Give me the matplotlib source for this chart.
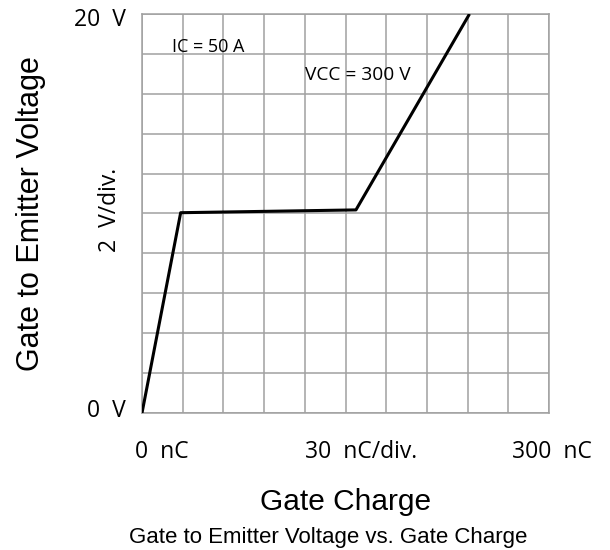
import numpy as np
import matplotlib.pyplot as plt

# gate charge curve (nC, V)
charge = [0, 28.5, 157.7, 241.4]
vge = [0, 10.04, 10.18, 20.0]

x_ticks = np.arange(0, 301, 30)
y_ticks = np.arange(0, 21, 2)

tick_font = 'Open Sans'
label_font = 'Liberation Sans'

fig = plt.figure(figsize=(6.1, 5.5), dpi=100)
ax = fig.add_axes([142 / 610, 1 - 413 / 550, 407 / 610, 399 / 550])

ax.plot(charge, vge, color='black', lw=2.2, solid_capstyle='butt', zorder=3)

ax.set_xlim(0, 300)
ax.set_ylim(0, 20)
ax.set_xticks(x_ticks)
ax.set_yticks(y_ticks)
ax.tick_params(length=0, labelbottom=False, labelleft=False)
ax.grid(True, color='#a0a0a0', lw=1.1)
for s in ax.spines.values():
    s.set_color('#a0a0a0')
    s.set_linewidth(1.1)

# annotations inside the grid
ax.text(172 / 610, 1 - 47 / 550, 'IC = 50 A', transform=fig.transFigure,
        family=tick_font, fontsize=13, va='center', ha='left')
ax.text(305 / 610, 1 - 75 / 550, 'VCC = 300 V', transform=fig.transFigure,
        family=tick_font, fontsize=13.8, va='center', ha='left')

# axis end labels
fig.text(126 / 610, 1 - 19.5 / 550, '20  V', family=tick_font, fontsize=16.5,
         ha='right', va='center')
fig.text(126 / 610, 1 - 411 / 550, '0  V', family=tick_font, fontsize=16.5,
         ha='right', va='center')
fig.text(110 / 610, 1 - 210 / 550, '2  V/div.', family=tick_font, fontsize=16.5,
         ha='center', va='center', rotation=90)

fig.text(135 / 610, 1 - 452 / 550, '0  nC', family=tick_font, fontsize=16.5,
         ha='left', va='center')
fig.text(361 / 610, 1 - 452 / 550, '30  nC/div.', family=tick_font, fontsize=16.5,
         ha='center', va='center')
fig.text(512 / 610, 1 - 452 / 550, '300  nC', family=tick_font, fontsize=16.5,
         ha='left', va='center')

fig.text(31 / 610, 1 - 213.5 / 550, 'Gate to Emitter Voltage', family=label_font,
         fontsize=22, rotation=90, ha='center', va='center')
fig.text(346 / 610, 1 - 502 / 550, 'Gate Charge', family=label_font,
         fontsize=21.5, ha='center', va='center')
fig.text(328 / 610, 1 - 537 / 550, 'Gate to Emitter Voltage vs. Gate Charge',
         family=label_font, fontsize=16, ha='center', va='center')

fig.savefig('out.png', dpi=100)
